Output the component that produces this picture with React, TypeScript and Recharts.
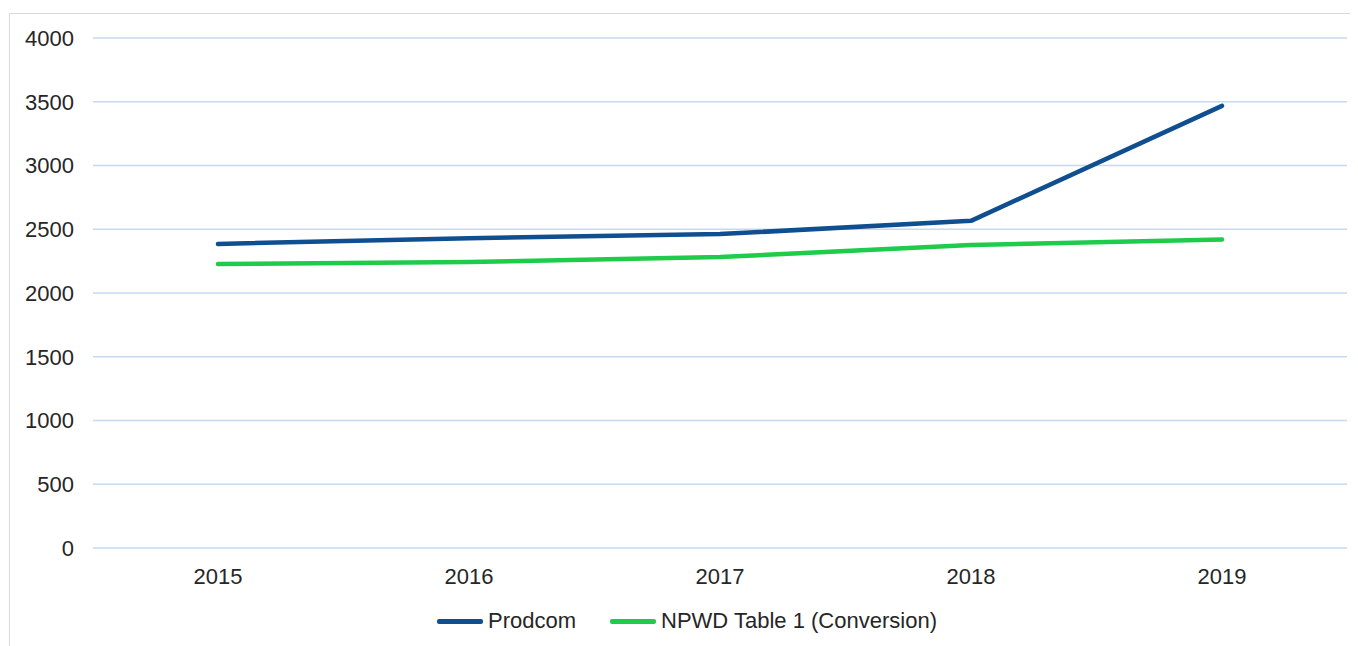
import React from "react";
import { LineChart, Line, XAxis, YAxis, CartesianGrid, Legend } from "recharts";

const years = ["2015", "2016", "2017", "2018", "2019"];
const prodcom = [2385, 2430, 2462, 2566, 3468];
const npwd = [2227, 2243, 2282, 2376, 2420];
const yTicks = [0, 500, 1000, 1500, 2000, 2500, 3000, 3500, 4000];

const seriesNames = { prodcom: "Prodcom", npwd: "NPWD Table 1 (Conversion)" };
const colors = { prodcom: "#0F4F8F", npwd: "#1FCB4A" };

const data = years.map((y, i) => ({ year: y, prodcom: prodcom[i], npwd: npwd[i] }));

const FONT = "'Liberation Sans', Arial, sans-serif";

const LegendContent = () => (
  <div
    style={{
      display: "flex",
      alignItems: "center",
      height: 40,
      paddingLeft: 427,
      fontFamily: FONT,
      fontSize: 22,
      color: "#262626",
    }}
  >
    {(["prodcom", "npwd"] as const).map((k, i) => (
      <div key={k} style={{ display: "flex", alignItems: "center", marginRight: i === 0 ? 34 : 0 }}>
        <div style={{ width: 46, height: 5, background: colors[k], borderRadius: 2, marginRight: 5 }} />
        <span>{seriesNames[k]}</span>
      </div>
    ))}
  </div>
);

export default function App() {
  return (
    <div
      style={{
        marginTop: 5,
        marginLeft: 1,
        width: 1345,
        height: 633,
        borderTop: "1px solid #d9d9d9",
        borderLeft: "1px solid #d9d9d9",
        background: "#fff",
      }}
    >
      <LineChart
        width={1345}
        height={632}
        data={data}
        margin={{ top: 24, right: 8, bottom: 5, left: 0 }}
      >
        <CartesianGrid vertical={false} stroke="#C6D9F1" strokeWidth={1.5} />
        <XAxis
          dataKey="year"
          axisLine={false}
          tickLine={false}
          tickSize={0}
          tickMargin={20}
          height={53}
          padding={{ left: 125, right: 125 }}
          tick={{ fontSize: 22, fill: "#262626", fontFamily: FONT }}
        />
        <YAxis
          domain={[0, 4000]}
          ticks={yTicks}
          axisLine={false}
          tickLine={false}
          tickSize={0}
          tickMargin={19}
          width={83}
          tick={{ fontSize: 22, fill: "#262626", fontFamily: FONT }}
        />
        <Legend
          verticalAlign="bottom"
          height={40}
          wrapperStyle={{ left: 0, width: 1345 }}
          content={<LegendContent />}
        />
        <Line
          type="linear"
          dataKey="prodcom"
          name={seriesNames.prodcom}
          stroke={colors.prodcom}
          strokeWidth={4.5}
          strokeLinecap="round"
          strokeLinejoin="round"
          dot={false}
          activeDot={false}
          isAnimationActive={false}
        />
        <Line
          type="linear"
          dataKey="npwd"
          name={seriesNames.npwd}
          stroke={colors.npwd}
          strokeWidth={4.5}
          strokeLinecap="round"
          strokeLinejoin="round"
          dot={false}
          activeDot={false}
          isAnimationActive={false}
        />
      </LineChart>
    </div>
  );
}
